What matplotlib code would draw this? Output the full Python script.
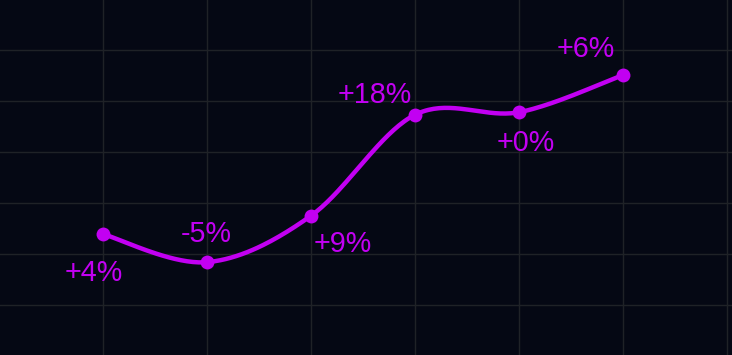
import numpy as np
import matplotlib
matplotlib.use("Agg")
import matplotlib.pyplot as plt

# data
steps = [0, 1, 2, 3, 4, 5]
values = [113.9, 108.4, 117.5, 137.3, 137.8, 145.1]
labels = ["+4%", "-5%", "+9%", "+18%", "+0%", "+6%"]
# label offsets (pixels from the point to the text centre)
offsets = [(-9, -39), (-1, 28), (32, -28), (-40, 20), (7, -31), (-37, 26)]

BG = "#050814"; GRID = "#1f2227"; PURPLE = "#c200f2"

def catmull(x, y, n=40):
    # uniform catmull-rom through the points, as cubic beziers
    P = np.column_stack([x, y]).astype(float)
    out = []
    for i in range(len(P) - 1):
        p0 = P[max(i - 1, 0)]; p1 = P[i]; p2 = P[i + 1]; p3 = P[min(i + 2, len(P) - 1)]
        c1 = p1 + (p2 - p0) / 6; c2 = p2 - (p3 - p1) / 6
        t = np.linspace(0, 1, n)[:, None]
        seg = (1-t)**3*p1 + 3*(1-t)**2*t*c1 + 3*(1-t)*t**2*c2 + t**3*p2
        out.append(seg if i == 0 else seg[1:])
    s = np.vstack(out)
    return s[:, 0], s[:, 1]

fig = plt.figure(figsize=(7.32, 3.55), dpi=100, facecolor=BG)
ax = fig.add_axes([0, 0, 1, 1], facecolor=BG)
ax.set_xlim(-103 / 104, 629 / 104)
ax.set_ylim(100 - 50 / 5.1, 100 + 305 / 5.1)
ax.set_xticks(range(0, 7)); ax.set_yticks(range(100, 160, 10))
ax.grid(True, color=GRID, lw=1)
ax.tick_params(length=0, labelbottom=False, labelleft=False)
for sp in ax.spines.values(): sp.set_visible(False)
ax.set_axisbelow(True)

sx, sy = catmull(steps, values)
ax.plot(sx, sy, color=PURPLE, lw=3.2, solid_capstyle="round", zorder=3)
ax.scatter(steps, values, s=100, color=PURPLE, zorder=4, linewidths=0)
for x, y, t, (dx, dy) in zip(steps, values, labels, offsets):
    ax.annotate(t, (x, y), xytext=(dx, dy), textcoords="offset pixels", ha="center", va="center",
                color=PURPLE, fontsize=20.7, family=["Liberation Sans", "DejaVu Sans"], zorder=5)

fig.savefig("out.png", dpi=100, facecolor=BG)
